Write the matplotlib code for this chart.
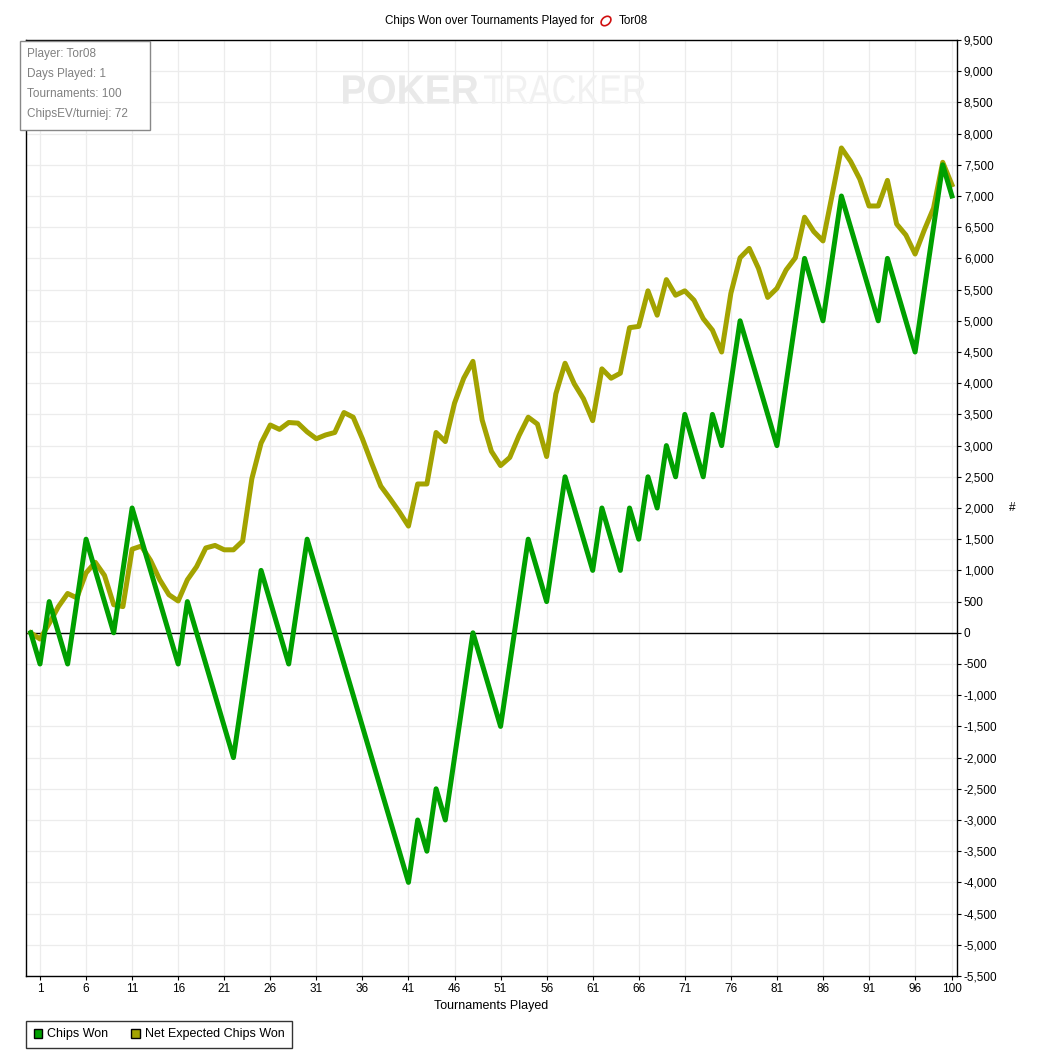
import matplotlib
matplotlib.use("Agg")
import matplotlib.pyplot as plt
from matplotlib.patches import Patch, PathPatch, Ellipse
from matplotlib.textpath import TextPath
from matplotlib.font_manager import FontProperties
from matplotlib.transforms import Affine2D, IdentityTransform
from matplotlib.ticker import FuncFormatter

plt.rcParams['font.family'] = ['Liberation Sans', 'DejaVu Sans']

# tournament index 0..100
tournaments = list(range(101))

chips_won = [0, -500, 500, 0, -500, 500, 1500, 1000, 500, 0,
             1000, 2000, 1500, 1000, 500, 0, -500, 500, 0, -500,
             -1000, -1500, -2000, -1000, 0, 1000, 500, 0, -500, 500,
             1500, 1000, 500, 0, -500, -1000, -1500, -2000, -2500, -3000,
             -3500, -4000, -3000, -3500, -2500, -3000, -2000, -1000, 0, -500,
             -1000, -1500, -500, 500, 1500, 1000, 500, 1500, 2500, 2000,
             1500, 1000, 2000, 1500, 1000, 2000, 1500, 2500, 2000, 3000,
             2500, 3500, 3000, 2500, 3500, 3000, 4000, 5000, 4500, 4000,
             3500, 3000, 4000, 5000, 6000, 5500, 5000, 6000, 7000, 6500,
             6000, 5500, 5000, 6000, 5500, 5000, 4500, 5500, 6500, 7500,
             7000]

net_expected = [0, -100, 150, 420, 630, 560, 960, 1130, 920, 450,
                420, 1340, 1390, 1160, 850, 610, 510, 850, 1060, 1360,
                1400, 1330, 1330, 1470, 2470, 3040, 3330, 3260, 3370, 3360,
                3220, 3110, 3170, 3210, 3530, 3455, 3110, 2720, 2350, 2150,
                1940, 1710, 2385, 2385, 3210, 3065, 3680, 4080, 4350, 3410,
                2910, 2680, 2810, 3160, 3455, 3345, 2825, 3830, 4320, 3990,
                3750, 3400, 4230, 4080, 4160, 4890, 4910, 5480, 5090, 5660,
                5410, 5480, 5330, 5035, 4850, 4500, 5440, 6010, 6160, 5840,
                5375, 5520, 5815, 6010, 6660, 6430, 6280, 7020, 7770, 7555,
                7270, 6840, 6840, 7250, 6550, 6375, 6070, 6455, 6805, 7540,
                7180]

x_ticks = [1, 6, 11, 16, 21, 26, 31, 36, 41, 46, 51, 56, 61, 66, 71, 76, 81, 86, 91, 96, 100]
y_ticks = list(range(-5500, 9501, 500))

info_lines = ["Player: Tor08", "Days Played: 1", "Tournaments: 100", "ChipsEV/turniej: 72"]

green = '#00a000'
olive = '#a3a300'

W, H = 1039, 1057
fig = plt.figure(figsize=(W / 100, H / 100), dpi=100)
ax = fig.add_axes([26 / W, 1 - 976 / H, (957 - 26) / W, (976 - 40) / H])

ax.set_xlim(-0.52, 100.55)
ax.set_ylim(-5500, 9500)


def watermark(word, weight, x0, x1, y_top, y_bot, color):
    # squeeze a word into a pixel box, like the condensed logo font
    tp = TextPath((0, 0), word, size=40, prop=FontProperties(family='Liberation Sans', weight=weight))
    ext = tp.get_extents()
    sx = (x1 - x0) / ext.width
    sy = (y_bot - y_top) / ext.height
    tr = (Affine2D().translate(-ext.x0, -ext.y0).scale(sx, sy)
          .translate(x0, H - y_bot) + IdentityTransform())
    p = PathPatch(tp, transform=tr, facecolor=color, edgecolor='none', zorder=1.5, clip_on=False)
    ax.add_patch(p)


watermark('POKER', 'bold', 343, 478, 75, 104, '#e9e9e9')
watermark('TRACKER', 'normal', 484, 645, 75, 104, '#f1f1f1')

ax.axhline(0, color='black', lw=1, zorder=2)
ax.plot(tournaments, net_expected, color=olive, lw=3.6, zorder=3, solid_joinstyle='round')
ax.plot(tournaments, chips_won, color=green, lw=3.6, zorder=4, solid_joinstyle='round')

ax.set_xticks(x_ticks)
ax.set_yticks(y_ticks)
ax.yaxis.set_major_formatter(FuncFormatter(lambda v, p: '{:,}'.format(int(v))))
ax.yaxis.tick_right()
ax.tick_params(axis='both', direction='out', length=3, width=0.8, labelsize=8.5, pad=2)
ax.grid(True, color='#ececec', lw=0.9)
ax.set_axisbelow(True)
for s in ax.spines.values():
    s.set_linewidth(1)
    s.set_color('black')

ax.set_xlabel('Tournaments Played', fontsize=9, labelpad=4)
fig.text(1012 / W, 1 - 508 / H, '#', fontsize=8.5, ha='center', va='center')

# title, with the small player icon between the two parts
fig.text(594 / W, 1 - 21 / H, 'Chips Won over Tournaments Played for',
         fontsize=8.4, ha='right', va='center')
fig.text(619 / W, 1 - 21 / H, 'Tor08', fontsize=8.4, ha='left', va='center')
fig.patches.append(Ellipse((606 / W, 1 - 21 / H), 11 / W, 8 / H, angle=40,
                           transform=fig.transFigure, facecolor='white',
                           edgecolor='#d01010', lw=1.2))

# info box
box = plt.Rectangle((20 / W, 1 - 130 / H), 130 / W, 89 / H, transform=fig.transFigure,
                    facecolor='white', edgecolor='#888888', lw=1, zorder=5)
fig.patches.append(box)
for i, line in enumerate(info_lines):
    fig.text(27 / W, 1 - (54 + 20 * i) / H, line, fontsize=8.5, color='#808080',
             ha='left', va='center', zorder=6)

handles = [Patch(facecolor=green, edgecolor='black', label='Chips Won'),
           Patch(facecolor=olive, edgecolor='black', label='Net Expected Chips Won')]
leg = fig.legend(handles=handles, loc='lower left', bbox_to_anchor=(26 / W, 1 - 1048 / H),
                 ncol=2, fontsize=9, frameon=True, fancybox=False, edgecolor='black',
                 handlelength=0.7, handleheight=0.7, handletextpad=0.4, columnspacing=1.8,
                 borderpad=0.6, borderaxespad=0)
leg.get_frame().set_linewidth(1)

fig.savefig('out.png', dpi=100)
